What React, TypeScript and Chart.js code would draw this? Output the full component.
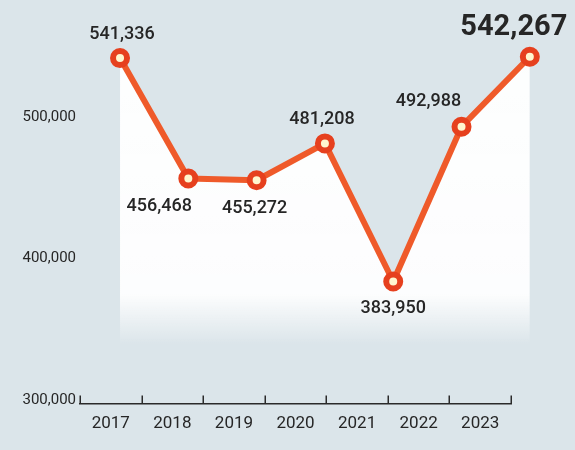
import React, { useEffect, useRef } from "react";
import { Chart, registerables } from "chart.js";

Chart.register(...registerables);

// ---- data ----
const YEARS = ["2017", "2018", "2019", "2020", "2021", "2022", "2023"];
const VALUES = [541336, 456468, 455272, 481208, 383950, 492988, 542267];
const Y_TICKS = [300000, 400000, 500000];

// ---- style / layout config ----
const BG = "#dbe5ea";
const LINE_COLOR = "#ef5a2a";
const MARKER_COLOR = "#e6401e";
const MARKER_FILL = "#fff6cf";
const TEXT = "#262626";
const FONT = "Roboto";
// label offsets (dx, dy) relative to each point
const LABEL_OFFSETS = [
  [2, -24],
  [-29, 28],
  [-2, 28],
  [-3, -24],
  [0, 27],
  [-33, -25],
  [-16, -29],
];
const HIGHLIGHT_INDEX = 6;
const AXIS_SPAN = 0.937; // visible axis covers this fraction of plot width

const fmt = (v: number) => v.toLocaleString("en-US");

const shrinkAxisPlugin = {
  id: "shrinkAxis",
  afterLayout(chart: any) {
    const s = chart.scales.x;
    s.right = s.left + (s.right - s.left) * AXIS_SPAN;
    s.width = s.right - s.left;
    s.configure();
  },
};

const tickMarksPlugin = {
  id: "tickMarks",
  afterDraw(chart: any) {
    const s = chart.scales.x;
    const ctx = chart.ctx;
    ctx.save();
    ctx.strokeStyle = "#2a2a2a";
    ctx.lineWidth = 1.5;
    for (let i = 0; i <= YEARS.length; i++) {
      const px = Math.round(s.getPixelForValue(i - 0.5)) + 0.25;
      ctx.beginPath();
      ctx.moveTo(px, s.top);
      ctx.lineTo(px, s.top - 8);
      ctx.stroke();
    }
    ctx.restore();
  },
};

const valueLabelsPlugin = {
  id: "valueLabels",
  afterDatasetsDraw(chart: any) {
    const meta = chart.getDatasetMeta(0);
    const ctx = chart.ctx;
    ctx.save();
    ctx.textAlign = "center";
    ctx.textBaseline = "middle";
    ctx.fillStyle = TEXT;
    meta.data.forEach((el: any, i: number) => {
      const [dx, dy] = LABEL_OFFSETS[i];
      ctx.font =
        i === HIGHLIGHT_INDEX ? `bold 29px ${FONT}` : `500 18px ${FONT}`;
      ctx.fillText(fmt(VALUES[i]), el.x + dx, el.y + dy);
    });
    ctx.restore();
  },
};

export default function App() {
  const ref = useRef<HTMLCanvasElement | null>(null);

  useEffect(() => {
    if (!ref.current) return;
    const chart = new Chart(ref.current, {
      type: "line",
      data: {
        labels: YEARS,
        datasets: [
          {
            data: VALUES.map((v, i) => ({ x: i, y: v })),
            xAxisID: "x2",
            yAxisID: "y",
            borderColor: LINE_COLOR,
            borderWidth: 6,
            borderJoinStyle: "round",
            tension: 0,
            pointRadius: 7,
            pointBorderWidth: 6,
            pointBorderColor: MARKER_COLOR,
            pointBackgroundColor: MARKER_FILL,
            fill: "start",
            clip: false,
            backgroundColor: (c: any) => {
              const { chart: ch } = c;
              const area = ch.chartArea;
              if (!area) return "rgba(255,255,255,0.9)";
              const g = ch.ctx.createLinearGradient(0, area.top, 0, area.bottom);
              g.addColorStop(0, "rgba(255,255,255,0.95)");
              g.addColorStop(0.72, "rgba(255,255,255,0.92)");
              g.addColorStop(0.85, "rgba(255,255,255,0)");
              g.addColorStop(1, "rgba(255,255,255,0)");
              return g;
            },
          } as any,
        ],
      },
      options: {
        responsive: false,
        animation: false,
        layout: { padding: { left: 0, right: 35, top: 0, bottom: 6 } },
        plugins: {
          legend: { display: false },
          tooltip: { enabled: false },
        },
        scales: {
          x: {
            type: "category",
            offset: true,
            grid: { display: false, drawTicks: false },
            border: { display: true, color: "#2a2a2a", width: 1.5 },
            ticks: {
              color: TEXT,
              padding: 10,
              font: { family: FONT, size: 17, weight: 400 },
              autoSkip: false,
              maxRotation: 0,
            },
            afterFit: (s: any) => {
              s.paddingLeft = 0;
              s.paddingRight = 0;
            },
          },
          x2: {
            type: "linear",
            display: false,
            min: -0.586,
            max: 6.149,
          },
          y: {
            type: "linear",
            min: 297900,
            max: 573100,
            grid: { display: false, drawTicks: false },
            border: { display: false },
            afterBuildTicks: (s: any) => {
              s.ticks = Y_TICKS.map((v) => ({ value: v }));
            },
            ticks: {
              color: TEXT,
              padding: 4,
              font: { family: FONT, size: 15 },
              callback: (v: any) => fmt(Number(v)),
            },
            afterFit: (s: any) => {
              s.width = 80;
              s.paddingTop = 0;
              s.paddingBottom = 0;
            },
          },
        },
      },
      plugins: [shrinkAxisPlugin, tickMarksPlugin, valueLabelsPlugin],
    });
    return () => chart.destroy();
  }, []);

  return (
    <div
      style={{
        position: "fixed",
        left: 0,
        top: 0,
        width: 575,
        height: 450,
        background: BG,
      }}
    >
      <canvas ref={ref} width={575} height={450} style={{ display: "block" }} />
    </div>
  );
}
